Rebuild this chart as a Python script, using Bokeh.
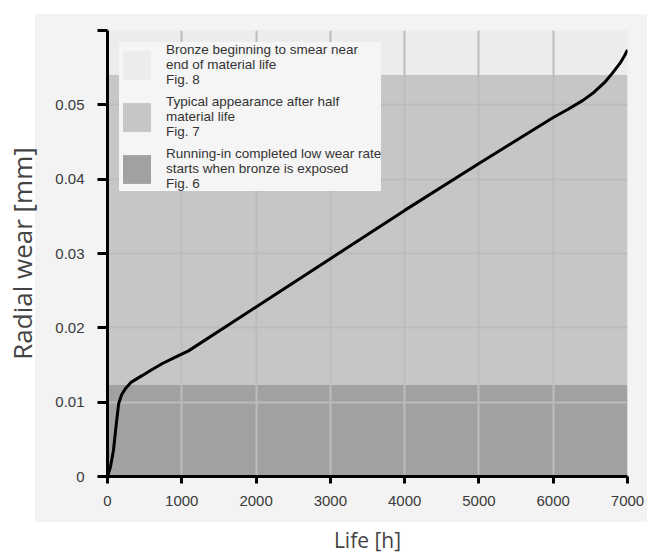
from bokeh.plotting import figure
from bokeh.models import (FixedTicker, Legend, LegendItem, ColumnDataSource)
from bokeh.embed import file_html
from bokeh.resources import INLINE

# ---- data ----
life_h = [0, 40, 80, 120, 150, 190, 240, 320, 470, 600, 740, 900, 1090,
          2000, 3000, 4000, 5000, 6000, 6200, 6400, 6550, 6700, 6800, 6900, 6960, 7000]
wear_mm = [0, 0.0013, 0.0035, 0.0072, 0.0098, 0.0110, 0.0118, 0.0127, 0.0136,
           0.0144, 0.0152, 0.0160, 0.0169,
           0.0228, 0.0293, 0.0358, 0.0421, 0.0483, 0.0494, 0.0506, 0.0517,
           0.0531, 0.0543, 0.0556, 0.0566, 0.0574]

band_labels = ["Bronze beginning to smear near\nend of material life\nFig. 8",
               "Typical appearance after half\nmaterial life\nFig. 7",
               "Running-in completed low wear rate\nstarts when bronze is exposed\nFig. 6"]
band_bottom = [0.054, 0.0123, 0.0]
band_top = [0.060, 0.054, 0.0123]
band_colors = ["#ececec", "#c6c6c6", "#a1a1a1"]

x_ticks = [0, 1000, 2000, 3000, 4000, 5000, 6000, 7000]
y_ticks = [0, 0.01, 0.02, 0.03, 0.04, 0.05, 0.06]
y_tick_labels = ["0", "0.01", "0.02", "0.03", "0.04", "0.05", ""]

W, H = 648, 558
p = figure(width=W, height=H, output_backend="svg", toolbar_location=None,
           x_range=(0, 7000), y_range=(0, 0.06),
           min_border_left=107, min_border_right=21,
           min_border_top=30, min_border_bottom=82)
p.background_fill_color = "#ececec"
p.border_fill_alpha = 0.0
p.outline_line_color = None
# light grey panel behind the chart (page stays white around it)
p.styles = {"background": "linear-gradient(#f3f3f3, #f3f3f3) 35px 14px / 612px 508px no-repeat, #ffffff"}

items = []
for lab, b, t, c in zip(band_labels, band_bottom, band_top, band_colors):
    src = ColumnDataSource(dict(left=[0], right=[7000], bottom=[b], top=[t]))
    r = p.quad(left="left", right="right", bottom="bottom", top="top", source=src,
               fill_color=c, line_color=None, level="underlay")
    items.append(LegendItem(label=lab, renderers=[r]))

p.line(life_h, wear_mm, line_color="black", line_width=3)

legend = Legend(items=items, location="top_left")
legend.margin = 12
legend.padding = 9
legend.spacing = 7
legend.glyph_width = 35
legend.glyph_height = 36
legend.label_standoff = 12
legend.label_text_font = "Liberation Sans"
legend.label_text_font_size = "13.5px"
legend.label_text_line_height = 1.55
legend.label_text_color = "#333333"
legend.background_fill_color = "#f5f5f5"
legend.background_fill_alpha = 1.0
legend.border_line_color = None
p.add_layout(legend)

# grid
for g in (p.xgrid, p.ygrid):
    g.grid_line_color = "#bcbcbc"
    g.grid_line_width = 2
p.xgrid.ticker = FixedTicker(ticks=x_ticks)
p.ygrid.ticker = FixedTicker(ticks=y_ticks)

# axes
p.xaxis.ticker = FixedTicker(ticks=x_ticks)
p.yaxis.ticker = FixedTicker(ticks=y_ticks)
p.yaxis.major_label_overrides = {v: s for v, s in zip(y_ticks, y_tick_labels)}
for ax in (p.xaxis[0], p.yaxis[0]):
    ax.axis_line_color = "black"
    ax.axis_line_width = 3
    ax.major_tick_line_color = "black"
    ax.major_tick_line_width = 3
    ax.major_tick_in = 0
    ax.minor_tick_line_color = None
    ax.major_label_text_font = "Liberation Sans"
    ax.major_label_text_font_size = "15px"
    ax.major_label_text_color = "#3a3a3a"
    ax.axis_label_text_font = "Open Sans"
    ax.axis_label_text_font_style = "normal"
    ax.axis_label_text_color = "#444444"
p.xaxis.major_tick_out = 7
p.yaxis.major_tick_out = 10
p.xaxis.major_label_standoff = 12
p.yaxis.major_label_standoff = 13
p.xaxis.axis_label = "Life [h]"
p.yaxis.axis_label = "Radial wear [mm]"
p.xaxis.axis_label_text_font_size = "21px"
p.yaxis.axis_label_text_font_size = "26px"
p.xaxis.axis_label_standoff = 17
p.yaxis.axis_label_standoff = 12

open("out.html", "w").write(file_html(p, INLINE))
